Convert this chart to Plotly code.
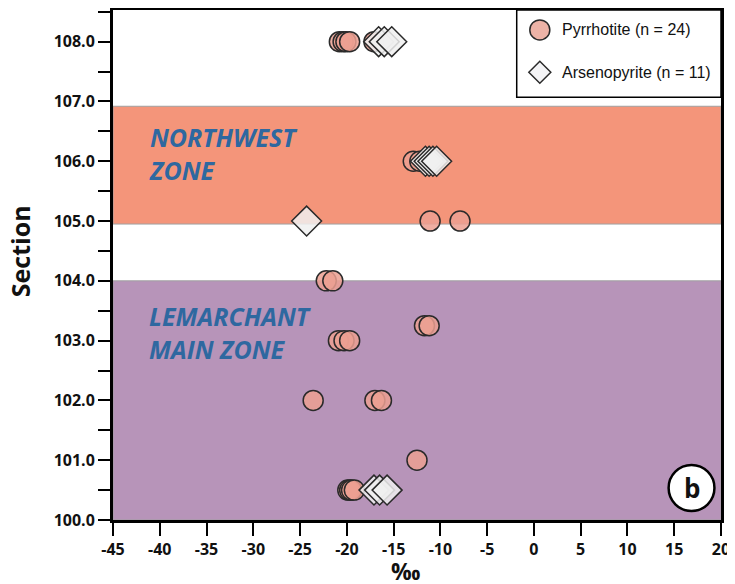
import plotly.graph_objects as go

# Pyrrhotite data (x = permil value, y = section)
po_x = [-20.8, -20.4, -20.1, -19.7, -17.1,
        -12.9, -12.2,
        -11.1, -7.9,
        -22.2, -21.5,
        -11.7, -11.2,
        -20.9, -20.3, -19.7,
        -23.6, -17.0, -16.3,
        -12.5,
        -19.9, -19.7, -19.5, -19.2]
po_y = [108.0, 108.0, 108.0, 108.0, 108.0,
        106.0, 106.0,
        105.0, 105.0,
        104.0, 104.0,
        103.25, 103.25,
        103.0, 103.0, 103.0,
        102.0, 102.0, 102.0,
        101.0,
        100.5, 100.5, 100.5, 100.5]

# Arsenopyrite data
apy_x = [-16.6, -16.0, -15.2,
         -11.6, -11.2, -10.8, -10.4,
         -24.3,
         -17.1, -16.5, -15.7]
apy_y = [108.0, 108.0, 108.0,
         106.0, 106.0, 106.0, 106.0,
         105.0,
         100.5, 100.5, 100.5]

x_ticks = [-45, -40, -35, -30, -25, -20, -15, -10, -5, 0, 5, 10, 15, 20]
x_tick_labels = ["-45", "-40", "-35", "-30", "-25", "-20", "-15", "-10", "-5", "0", "5", "10", "15", "20"]
y_ticks = [100, 101, 102, 103, 104, 105, 106, 107, 108]
y_tick_labels = ["100.0", "101.0", "102.0", "103.0", "104.0", "105.0", "106.0", "107.0", "108.0"]

nw_zone = [104.95, 106.92]
lm_zone = [100.0, 104.0]

po_name = "Pyrrhotite (n = 24)"
apy_name = "Arsenopyrite (n = 11)"
x_title = "‰"
y_title = "Section"

po_fill = "rgba(236,160,146,0.85)"
apy_fill = "rgba(240,240,240,0.85)"
edge = "#2a2a2a"

fig = go.Figure()

fig.add_trace(go.Scatter(
    x=po_x, y=po_y, mode="markers", name=po_name,
    marker=dict(symbol="circle", size=20, color=po_fill, line=dict(color=edge, width=1.5)),
))
fig.add_trace(go.Scatter(
    x=apy_x, y=apy_y, mode="markers", name=apy_name,
    marker=dict(symbol="diamond", size=23, color=apy_fill, line=dict(color=edge, width=1.5)),
))

# zone bands
fig.add_shape(type="rect", xref="x", yref="y", x0=-45, x1=20, y0=nw_zone[0], y1=nw_zone[1],
              fillcolor="#F4957A", line=dict(color="#a0a0a0", width=1), layer="below")
fig.add_shape(type="rect", xref="x", yref="y", x0=-45, x1=20, y0=lm_zone[0], y1=lm_zone[1],
              fillcolor="#B794B9", line=dict(color="#a0a0a0", width=1), layer="below")

zone_font = dict(family="Open Sans", size=25, color="#2E68A0", weight="bold", style="italic")
fig.add_annotation(x=-41.4, y=106.13, xref="x", yref="y", text="NORTHWEST<br>ZONE",
                   showarrow=False, xanchor="left", yanchor="middle", align="left",
                   font=zone_font)
fig.add_annotation(x=-41.4, y=103.13, xref="x", yref="y", text="LEMARCHANT<br>MAIN ZONE",
                   showarrow=False, xanchor="left", yanchor="middle", align="left",
                   font=zone_font)

# panel label b
fig.add_shape(type="circle", xref="x", yref="y", x0=14.4, x1=19.3, y0=100.15, y1=100.92,
              fillcolor="white", line=dict(color="black", width=2.5))
fig.add_annotation(x=16.85, y=100.535, xref="x", yref="y", text="b", showarrow=False,
                   font=dict(family="Open Sans", size=26, color="#111", weight="bold"))

# custom legend box (top-right)
fig.add_shape(type="rect", xref="paper", yref="paper", x0=0.664, x1=1.0, y0=0.829, y1=1.0,
              fillcolor="white", line=dict(color="black", width=1.5), layer="above")
fig.add_shape(type="circle", xref="paper", yref="paper", xsizemode="pixel", ysizemode="pixel",
              xanchor=0.702, yanchor=0.961, x0=-10, x1=10, y0=-10, y1=10,
              fillcolor="#EDB3A7", line=dict(color=edge, width=1.5), layer="above")
fig.add_shape(type="path", xref="paper", yref="paper", xsizemode="pixel", ysizemode="pixel",
              xanchor=0.702, yanchor=0.878, path="M -11 0 L 0 11 L 11 0 L 0 -11 Z",
              fillcolor="#F4F4F6", line=dict(color=edge, width=1.5), layer="above")
leg_font = dict(family="Liberation Sans", size=16, color="#111")
fig.add_annotation(x=0.736, y=0.961, xref="paper", yref="paper", text=po_name, showarrow=False,
                   xanchor="left", yanchor="middle", font=leg_font)
fig.add_annotation(x=0.736, y=0.878, xref="paper", yref="paper", text=apy_name, showarrow=False,
                   xanchor="left", yanchor="middle", font=leg_font)

# axis titles
fig.add_annotation(x=0.481, y=-0.100, xref="paper", yref="paper", text=x_title, showarrow=False,
                   xanchor="center", yanchor="middle",
                   font=dict(family="Open Sans", size=23, color="#111", weight="bold"))
fig.add_annotation(x=-0.153, y=0.527, xref="paper", yref="paper", text=y_title, showarrow=False,
                   xanchor="center", yanchor="middle", textangle=-90,
                   font=dict(family="Open Sans", size=25, color="#111", weight="bold"))

tick_font = dict(family="Open Sans", size=16, color="#111", weight="bold")

# note: the page body has an 8px margin, so the figure is offset by (8, 8)
fig.update_layout(
    width=727, height=576,
    margin=dict(l=105, r=14, t=2, b=64),
    plot_bgcolor="white", paper_bgcolor="white",
    showlegend=False,
    xaxis=dict(range=[-45, 20], tickvals=x_ticks, ticktext=x_tick_labels, ticks="outside",
               ticklen=13, tickwidth=2, tickcolor="black", automargin=False,
               showline=True, linecolor="black", linewidth=3, mirror=True,
               showgrid=False, zeroline=False, tickfont=tick_font),
    yaxis=dict(range=[100, 108.53], tickvals=y_ticks, ticktext=y_tick_labels, ticks="outside",
               ticklen=12, tickwidth=2, tickcolor="black", automargin=False,
               showline=True, linecolor="black", linewidth=3, mirror=True,
               showgrid=False, zeroline=False,
               minor=dict(dtick=0.5, tick0=100, ticks="outside", ticklen=12, tickwidth=2, tickcolor="black"),
               tickfont=tick_font),
)

fig.write_html("out.html")
